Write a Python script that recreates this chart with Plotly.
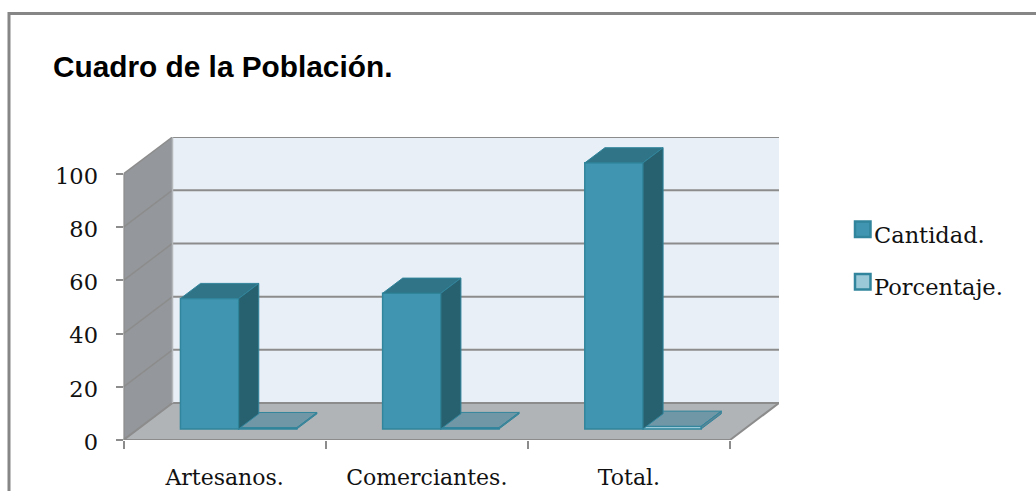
import plotly.graph_objects as go

categories = ["Artesanos.", "Comerciantes.", "Total."]
cantidad = [49, 51, 100]
porcentaje = [0.49, 0.51, 1]
y_ticks = [0, 20, 40, 60, 80, 100]
series_names = ["Cantidad.", "Porcentaje."]

W, H = 1036, 491
PX_LEFT, PX_FRONT_RIGHT, PX_BACK_RIGHT = 123.5, 730, 779
PX_Y0, PX_Y100 = 440, 173.5
UX = (PX_FRONT_RIGHT - PX_LEFT) / len(categories)   # px per category
UY = (PX_Y0 - PX_Y100) / 100                        # px per unit
DX = (PX_BACK_RIGHT - PX_FRONT_RIGHT) / UX          # wall depth in data units
DY = 37 / UY
X_MAX = len(categories) + DX
Y_MAX = 100 + DY
F0 = 0.30          # bars' front plane, as share of the depth
F1 = 0.41          # bars' depth, as share of the depth
BAR_W = 0.288
BAR_START = 0.209

GRID = "#8c8c8c"
FACE, TOP, SIDE, EDGE = "#4096b1", "#2f7487", "#27616f", "#31859c"
P_FACE, P_TOP, P_SIDE = "#9bc9d8", "#6f97a6", "#5b8494"


def poly(points):
    return "M" + "L".join(f"{x},{y}" for x, y in points) + "Z"


def px(x):
    return x / W


def py(y):
    return 1 - y / H


shapes = []
# outer frame
shapes.append(dict(type="rect", xref="paper", yref="paper", layer="below",
                   x0=px(9), x1=1.1, y0=-0.1, y1=py(13.5),
                   line=dict(color="#868686", width=3), fillcolor="rgba(0,0,0,0)"))
# back wall, side wall, floor
shapes.append(dict(type="path", layer="below", xref="x", yref="y", line=dict(width=0),
                   fillcolor="#e8eff6",
                   path=poly([(DX, DY), (X_MAX, DY), (X_MAX, Y_MAX), (DX, Y_MAX)])))
shapes.append(dict(type="path", layer="below", xref="x", yref="y", line=dict(width=0),
                   fillcolor="#94979b",
                   path=poly([(0, 0), (DX, DY), (DX, Y_MAX), (0, 100)])))
shapes.append(dict(type="path", layer="below", xref="x", yref="y",
                   line=dict(color=GRID, width=2), fillcolor="#b0b4b7",
                   path=poly([(0, 0), (len(categories), 0), (X_MAX, DY), (DX, DY)])))
# grid lines on both walls
for v in y_ticks[1:]:
    shapes.append(dict(type="line", layer="below", xref="x", yref="y",
                       x0=DX, x1=X_MAX, y0=v + DY, y1=v + DY,
                       line=dict(color=GRID, width=2)))
    shapes.append(dict(type="line", layer="below", xref="x", yref="y",
                       x0=0, x1=DX, y0=v, y1=v + DY,
                       line=dict(color=GRID, width=1.5)))
shapes.append(dict(type="line", layer="below", xref="x", yref="y",
                   x0=0, x1=0, y0=0, y1=100, line=dict(color=GRID, width=2)))
shapes.append(dict(type="line", layer="below", xref="x", yref="y",
                   x0=DX, x1=DX, y0=DY, y1=Y_MAX, line=dict(color="#b5b8bb", width=1.5)))

ddx, ddy = F1 * DX, F1 * DY
base = F0 * DY
xoff = F0 * DX


def faces(start, values):
    top_x, top_y, side_x, side_y = [], [], [], []
    for i, v in enumerate(values):
        l = i + start + xoff
        r = l + BAR_W
        b = base
        top_x += [l, r, r + ddx, l + ddx, l, None]
        top_y += [b + v, b + v, b + v + ddy, b + v + ddy, b + v, None]
        side_x += [r, r + ddx, r + ddx, r, r, None]
        side_y += [b, b + ddy, b + v + ddy, b + v, b, None]
    return top_x, top_y, side_x, side_y


fig = go.Figure()
start_c, start_p = BAR_START, BAR_START + BAR_W
fig.add_trace(go.Bar(name=series_names[1], x=[i + start_p + xoff + BAR_W / 2 for i in range(3)],
                     y=porcentaje, base=[base] * 3, width=BAR_W, showlegend=False,
                     marker=dict(color=P_FACE, line=dict(color=EDGE, width=1.5))))
fig.add_trace(go.Bar(name=series_names[0], x=[i + start_c + xoff + BAR_W / 2 for i in range(3)],
                     y=cantidad, base=[base] * 3, width=BAR_W, showlegend=False,
                     marker=dict(color=FACE, line=dict(color=EDGE, width=1.5))))

for start, vals, ctop, cside in [(start_p, porcentaje, P_TOP, P_SIDE), (start_c, cantidad, TOP, SIDE)]:
    tx, ty, sx, sy = faces(start, vals)
    for fx, fy, col in [(tx, ty, ctop), (sx, sy, cside)]:
        fig.add_trace(go.Scatter(x=fx, y=fy, mode="lines", fill="toself", fillcolor=col,
                                 line=dict(color=EDGE, width=1), showlegend=False,
                                 hoverinfo="skip"))

annotations = []
for name, col, top in zip(series_names, [FACE, P_FACE], [221.5, 274]):
    shapes.append(dict(type="rect", xref="paper", yref="paper",
                       x0=px(855), x1=px(870.5), y0=py(top + 15.5), y1=py(top),
                       fillcolor=col, line=dict(color=EDGE, width=2.5)))
    annotations.append(dict(xref="paper", yref="paper", x=px(872), y=py(top + 13),
                            xanchor="left", yanchor="middle", text=name, showarrow=False,
                            font=dict(family="DejaVu Serif", size=22.5, color="#111111")))

fig.update_layout(
    width=W, height=H, autosize=False,
    margin=dict(l=0, r=0, t=0, b=0),
    paper_bgcolor="white", plot_bgcolor="rgba(0,0,0,0)",
    barmode="overlay", showlegend=False,
    title=dict(text="<b>Cuadro de la Población.</b>", xref="container", yref="container",
               x=53 / W, y=1 - 67 / H, xanchor="left", yanchor="middle",
               font=dict(family="Liberation Sans", size=29.8, color="#000000")),
    xaxis=dict(domain=[PX_LEFT / W, PX_BACK_RIGHT / W], range=[0, X_MAX], automargin=False,
               tickmode="array", tickvals=[i + 0.5 for i in range(3)], ticktext=categories,
               ticks="", showgrid=False, zeroline=False, showline=False,
               ticklabelstandoff=22,
               minor=dict(tickmode="array", tickvals=[0, 1, 2, 3], ticks="outside",
                          ticklen=8, tickwidth=2, tickcolor=GRID, showgrid=False),
               tickfont=dict(family="DejaVu Serif", size=22, color="#111111")),
    yaxis=dict(domain=[(H - PX_Y0) / H, (H - 137) / H], range=[0, Y_MAX], automargin=False,
               tickmode="array", tickvals=y_ticks, ticks="outside", ticklen=7, tickwidth=2,
               tickcolor=GRID, showgrid=False, zeroline=False, showline=False,
               ticklabelstandoff=13, ticklabelshift=2,
               tickfont=dict(family="DejaVu Serif", size=22.5, color="#111111")),
    shapes=shapes, annotations=annotations,
)
fig.write_html("out.html", config=dict(displayModeBar=False),
               post_script="document.body.style.margin='0';document.body.style.overflow='hidden';")
